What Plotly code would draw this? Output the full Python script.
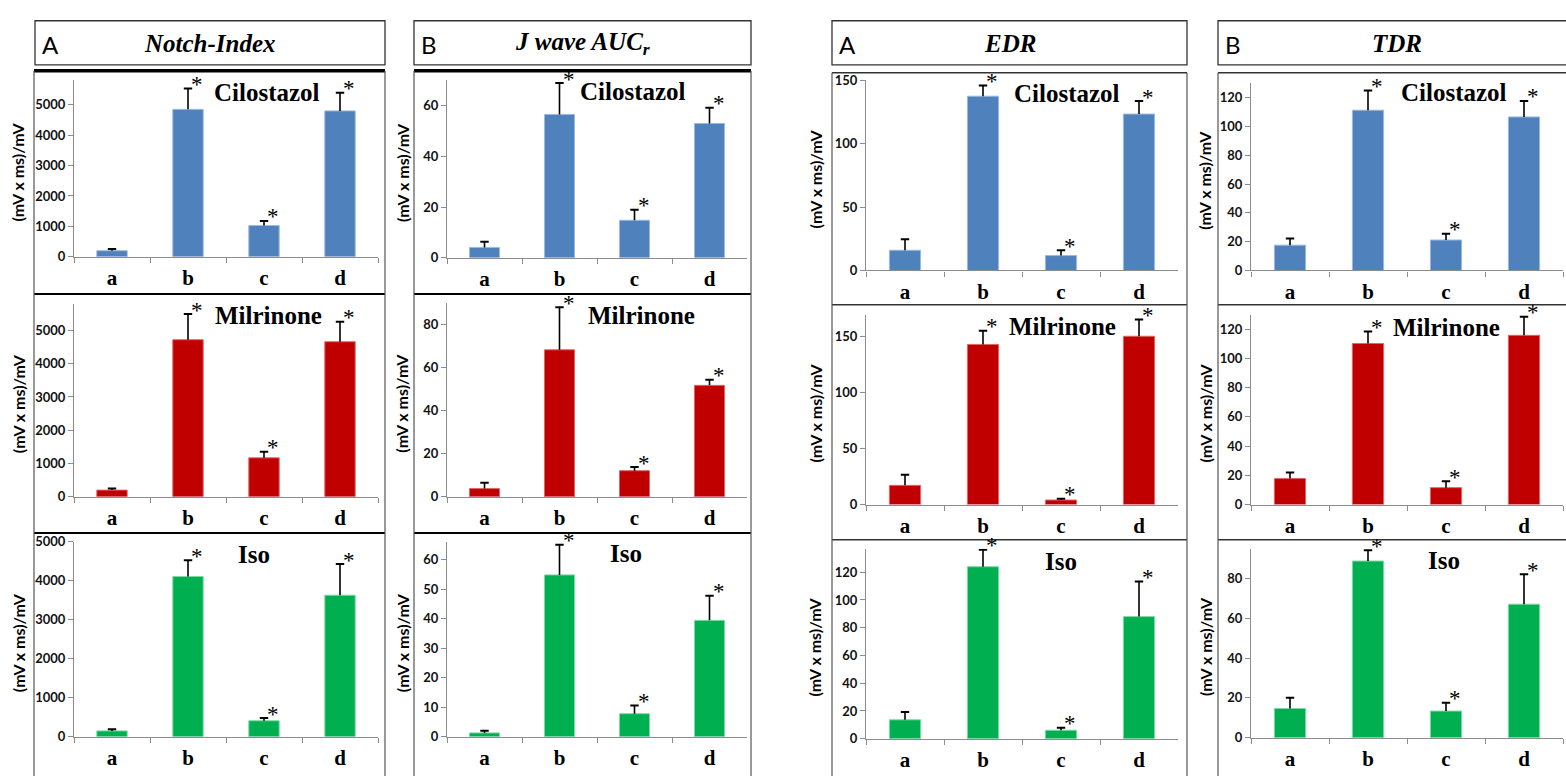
import plotly.graph_objects as go

W, H = 1566, 779

categories = ["a", "b", "c", "d"]

# ---- Notch-Index ----
notch_cilostazol = [200, 4850, 1030, 4800]
notch_cilostazol_err = [60, 690, 150, 600]
notch_milrinone = [200, 4720, 1170, 4660]
notch_milrinone_err = [50, 770, 185, 600]
notch_iso = [150, 4110, 410, 3630]
notch_iso_err = [40, 420, 70, 800]

# ---- J wave AUCr ----
jwave_cilostazol = [4.1, 56.6, 14.8, 53.0]
jwave_cilostazol_err = [2.2, 12.4, 4.2, 6.2]
jwave_milrinone = [3.8, 68.2, 12.1, 51.7]
jwave_milrinone_err = [2.7, 19.7, 1.7, 2.6]
jwave_iso = [1.3, 54.8, 7.8, 39.4]
jwave_iso_err = [0.7, 10.2, 2.8, 8.3]

# ---- EDR ----
edr_cilostazol = [16.0, 137.6, 11.8, 123.5]
edr_cilostazol_err = [8.7, 8.5, 4.2, 10.3]
edr_milrinone = [17.2, 143.3, 4.1, 150.6]
edr_milrinone_err = [9.6, 12.2, 1.1, 15.1]
edr_iso = [13.6, 124.0, 6.1, 88.0]
edr_iso_err = [5.7, 12.2, 1.7, 25.4]

# ---- TDR ----
tdr_cilostazol = [17.6, 111.4, 21.2, 106.7]
tdr_cilostazol_err = [4.7, 13.6, 4.3, 11.1]
tdr_milrinone = [17.8, 110.2, 11.6, 115.8]
tdr_milrinone_err = [4.2, 8.3, 4.4, 12.7]
tdr_iso = [14.7, 88.8, 13.4, 67.1]
tdr_iso_err = [5.4, 5.4, 4.2, 15.0]

significant = [False, True, True, True]

panel_letters = ["A", "B", "A", "B"]
panel_titles = ["Notch-Index", "J wave AUC<sub>r</sub>", "EDR", "TDR"]
drug_names = ["Cilostazol", "Milrinone", "Iso"]
y_title = "(mV x ms)/mV"

notch_ticks = [[0, 1000, 2000, 3000, 4000, 5000]] * 3
jwave_ticks = [[0, 20, 40, 60], [0, 20, 40, 60, 80], [0, 10, 20, 30, 40, 50, 60]]
edr_ticks = [[0, 50, 100, 150], [0, 50, 100, 150], [0, 20, 40, 60, 80, 100, 120]]
tdr_ticks = [[0, 20, 40, 60, 80, 100, 120]] * 2 + [[0, 20, 40, 60, 80]]

values = [
    [notch_cilostazol, notch_milrinone, notch_iso],
    [jwave_cilostazol, jwave_milrinone, jwave_iso],
    [edr_cilostazol, edr_milrinone, edr_iso],
    [tdr_cilostazol, tdr_milrinone, tdr_iso],
]
errors = [
    [notch_cilostazol_err, notch_milrinone_err, notch_iso_err],
    [jwave_cilostazol_err, jwave_milrinone_err, jwave_iso_err],
    [edr_cilostazol_err, edr_milrinone_err, edr_iso_err],
    [tdr_cilostazol_err, tdr_milrinone_err, tdr_iso_err],
]
ticks = [notch_ticks, jwave_ticks, edr_ticks, tdr_ticks]

# ---- styling / geometry (pixels) ----
y_max = [[5800, 5800, 5000], [70, 90, 66], [150, 170, 137], [130, 130, 95]]
row_colors = ["#4F81BD", "#C00000", "#00B050"]
row_edges = ["#9DB9DE", "#E06666", "#7FD8A7"]
col_x = [(74, 378), (447, 747), (866, 1178), (1251, 1563)]
col_rows = [
    [(74, 254), (302, 499), (545, 744)],
    [(74, 255), (301, 499), (545, 744)],
    [(74, 268), (313, 507), (552, 746)],
    [(77, 268), (313, 507), (552, 745)],
]
drug_pos = [
    [(267, 86), (268, 314), (254, 558)],
    [(633, 85), (641, 314), (626, 557)],
    [(1067, 87), (1062, 325), (1061, 565)],
    [(1454, 86), (1446, 326), (1444, 564)],
]
ytitle_x = [18, 402, 815, 1205]
header_boxes = [(35, 385), (414, 751), (832, 1187), (1218, 1590)]
frame_x = [(34, 385), (414, 751), (832, 1187), (1218, 1590)]


def px(x):
    return x / W


def py(y):
    return 1 - y / H


fig = go.Figure()
layout = dict(
    width=W, height=H, margin=dict(l=0, r=0, t=0, b=0),
    paper_bgcolor="white", plot_bgcolor="white", showlegend=False,
    bargap=0.6,
)
annotations = []
shapes = []

n = 0
for c in range(4):
    for r in range(3):
        n += 1
        xa = "x" if n == 1 else f"x{n}"
        ya = "y" if n == 1 else f"y{n}"
        xkey = "xaxis" if n == 1 else f"xaxis{n}"
        ykey = "yaxis" if n == 1 else f"yaxis{n}"
        x0, x1 = col_x[c]
        y0, y1 = col_rows[c][r]
        layout[xkey] = dict(
            domain=[px(x0), px(x1)], anchor=ya, type="category",
            categoryorder="array", categoryarray=categories,
            range=[-0.5, 3.5], showline=True, linecolor="#8C8C8C", linewidth=1.2,
            ticks="outside", tickson="boundaries", ticklen=5, tickcolor="#8C8C8C",
            tickwidth=1.2, showgrid=False, zeroline=False, fixedrange=True,
            tickfont=dict(family="Liberation Serif", size=21, color="black", weight="bold"),
            ticklabelstandoff=2,
        )
        layout[ykey] = dict(
            domain=[py(y1), py(y0)], anchor=xa, range=[0, y_max[c][r]],
            tickmode="array", tickvals=ticks[c][r],
            showline=True, linecolor="#8C8C8C", linewidth=1.2,
            ticks="outside", ticklen=5, tickcolor="#8C8C8C", tickwidth=1.2,
            showgrid=False, zeroline=False, fixedrange=True,
            tickfont=dict(family="Lato", size=13, color="#111111", weight="bold"),
        )
        vals = values[c][r]
        errs = errors[c][r]
        fig.add_trace(go.Bar(
            x=categories, y=vals, xaxis=xa, yaxis=ya, width=0.4,
            marker=dict(color=row_colors[r], line=dict(color=row_edges[r], width=1)),
            error_y=dict(type="data", symmetric=False, array=errs,
                         arrayminus=[0] * len(errs), color="black",
                         thickness=1.6, width=0),
            hoverinfo="x+y",
        ))
        tops = [v + e for v, e in zip(vals, errs)]
        fig.add_trace(go.Scatter(
            x=categories, y=tops, xaxis=xa, yaxis=ya, mode="markers",
            marker=dict(symbol="line-ew", size=6, line=dict(color="black", width=2)),
            hoverinfo="skip",
        ))
        for cat, t, s in zip(categories, tops, significant):
            if s:
                annotations.append(dict(
                    x=cat, y=t, xref=xa, yref=ya, text="*", showarrow=False,
                    xshift=9, yshift=4, yanchor="middle",
                    font=dict(family="Liberation Serif", size=23, color="black"),
                ))
        dx, dy = drug_pos[c][r]
        annotations.append(dict(
            x=px(dx), y=py(dy), xref="paper", yref="paper", text=drug_names[r],
            showarrow=False, xanchor="center", yanchor="middle",
            font=dict(family="Liberation Serif", size=25, color="black", weight="bold"),
        ))
        annotations.append(dict(
            x=px(ytitle_x[c]), y=py((y0 + y1) / 2 + 4), xref="paper", yref="paper",
            text=y_title, textangle=-90, showarrow=False,
            xanchor="center", yanchor="middle",
            font=dict(family="Lato", size=16, color="black", weight="bold"),
        ))

# header boxes
for c in range(4):
    bx0, bx1 = header_boxes[c]
    shapes.append(dict(type="rect", xref="paper", yref="paper",
                       x0=px(bx0), x1=px(bx1), y0=py(58), y1=py(13),
                       line=dict(color="#333333", width=1.3)))
    annotations.append(dict(
        x=px(bx0 + 15), y=py(37), xref="paper", yref="paper",
        text=panel_letters[c], showarrow=False, xanchor="center", yanchor="middle",
        font=dict(family="Lato", size=24, color="black"),
    ))
    cx = (header_boxes[c][0] + min(header_boxes[c][1], 1576)) / 2
    annotations.append(dict(
        x=px(cx), y=py(36), xref="paper", yref="paper",
        text="<b><i>" + panel_titles[c] + "</i></b>", showarrow=False,
        xanchor="center", yanchor="middle",
        font=dict(family="Liberation Serif", size=25, color="black"),
    ))

# panel frames
for c in range(4):
    fx0, fx1 = frame_x[c]
    if c < 2:
        top, seps, sep_w, top_w, col = 64, (292, 536), 2.2, 3.5, "black"
    else:
        top, seps, sep_w, top_w, col = 66, (303, 543), 1.5, 1.5, "#333333"
    shapes.append(dict(type="line", xref="paper", yref="paper",
                       x0=px(fx0), x1=px(fx1), y0=py(top), y1=py(top),
                       line=dict(color=col, width=top_w)))
    for s in seps:
        shapes.append(dict(type="line", xref="paper", yref="paper",
                           x0=px(fx0), x1=px(fx1), y0=py(s), y1=py(s),
                           line=dict(color=col, width=sep_w)))
    for xv in (fx0, fx1):
        shapes.append(dict(type="line", xref="paper", yref="paper",
                           x0=px(xv), x1=px(xv), y0=py(top), y1=py(H + 5),
                           line=dict(color="#555555", width=1.2)))

layout["annotations"] = annotations
layout["shapes"] = shapes
fig.update_layout(**layout)
fig.write_html("out.html")
